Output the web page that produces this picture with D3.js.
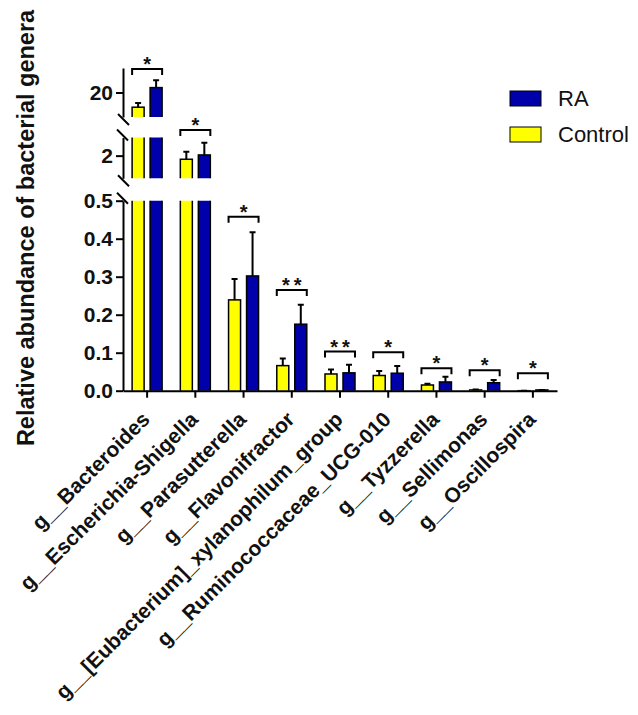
<!DOCTYPE html>
<html>
<head>
<meta charset="utf-8">
<script src="https://cdn.jsdelivr.net/npm/d3@7"></script>
<style>
  body { margin: 0; background: #fff; }
  svg { display: block; }
</style>
</head>
<body>
<script>
// genera, left to right
var categories = ["g__Bacteroides", "g__Escherichia-Shigella", "g__Parasutterella", "g__Flavonifractor",
    "g__[Eubacterium]_xylanophilum_group", "g__Ruminococcaceae_UCG-010", "g__Tyzzerella", "g__Sellimonas", "g__Oscillospira"];
var groups = ["Control", "RA"];

// mean relative abundance and upper error
var controlMean = [14.0, 1.84, 0.239, 0.066, 0.044, 0.040, 0.015, 0.002, 0.000];
var controlErr  = [1.7, 0.33, 0.055, 0.019, 0.012, 0.012, 0.003, 0.001, 0.000];
var raMean      = [22.0, 2.03, 0.302, 0.175, 0.047, 0.046, 0.023, 0.021, 0.002];
var raErr       = [3.0, 0.54, 0.115, 0.051, 0.021, 0.019, 0.014, 0.007, 0.000];

// significance marks and the level of each bracket (data units of its segment)
var sigLabels = ["*", "*", "*", "**", "**", "*", "*", "*", "*"];
var sigLevel  = [29.6, 3.13, 0.458, 0.265, 0.103, 0.101, 0.059, 0.054, 0.046];

// y axis tick labels for the three broken segments
var ticksTop = [20];
var ticksMid = [2];
var ticksBottom = [0, 0.1, 0.2, 0.3, 0.4, 0.5];

var colors = { Control: "#ffff00", RA: "#0000aa" };
var FONT = "'Liberation Sans', Arial, Helvetica, sans-serif";

var svg = d3.select("body").append("svg")
    .attr("width", 638)
    .attr("height", 715)
    .style("font-family", FONT);

svg.append("rect").attr("width", 638).attr("height", 715).attr("fill", "#fff");

var axisX = 123;
var x = d3.scaleBand().domain(categories).range([axisX, 557]);
var xSub = d3.scaleBand().domain(groups).range([-15, 15]).paddingInner(1 / 3);

function cx(c) { return x(c) + x.bandwidth() / 2; }

// build rows of {cat, group, value, err}
var rows = [];
categories.forEach(function (c, i) {
    rows.push({ cat: c, group: "Control", value: controlMean[i], err: controlErr[i] });
    rows.push({ cat: c, group: "RA", value: raMean[i], err: raErr[i] });
});

var segments = [
    { id: "segTop", y: d3.scaleLinear().domain([10, 30]).range([117, 68]), ticks: ticksTop, fmt: d3.format("d"), breakTop: false, breakBottom: true },
    { id: "segMid", y: d3.scaleLinear().domain([1, 2.8]).range([178.3, 137.5]), ticks: ticksMid, fmt: d3.format("d"), breakTop: true, breakBottom: true },
    { id: "segBot", y: d3.scaleLinear().domain([0, 0.5]).range([390.7, 200.7]), ticks: ticksBottom, fmt: d3.format(".1f"), breakTop: true, breakBottom: false }
];

var defs = svg.append("defs");

segments.forEach(function (seg) {
    var yBottom = seg.y.range()[0];
    var yTop = seg.y.range()[1];

    defs.append("clipPath").attr("id", "clip-" + seg.id)
        .append("rect")
        .attr("x", axisX)
        .attr("y", yTop)
        .attr("width", 600 - axisX)
        .attr("height", yBottom - yTop);

    var g = svg.append("g").attr("clip-path", "url(#clip-" + seg.id + ")");

    // bars
    g.selectAll("rect.bar")
        .data(rows)
        .enter().append("rect")
        .attr("class", "bar")
        .attr("x", function (d) { return cx(d.cat) + xSub(d.group); })
        .attr("width", xSub.bandwidth())
        .attr("y", function (d) { return Math.max(seg.y(d.value), yTop - 5); })
        .attr("height", function (d) {
            var top = Math.max(seg.y(d.value), yTop - 5);
            return Math.max(0, yBottom + 3 - top);
        })
        .attr("fill", function (d) { return colors[d.group]; })
        .attr("stroke", "#000")
        .attr("stroke-width", 1.5);

    // error bars (upper only)
    var eb = g.selectAll("g.err")
        .data(rows)
        .enter().append("g")
        .attr("class", "err")
        .attr("transform", function (d) { return "translate(" + (cx(d.cat) + xSub(d.group) + xSub.bandwidth() / 2) + ",0)"; });
    eb.append("line")
        .attr("y1", function (d) { return seg.y(d.value); })
        .attr("y2", function (d) { return seg.y(d.value + d.err); })
        .attr("stroke", "#000").attr("stroke-width", 2);
    eb.append("line")
        .attr("x1", -3).attr("x2", 3)
        .attr("y1", function (d) { return seg.y(d.value + d.err); })
        .attr("y2", function (d) { return seg.y(d.value + d.err); })
        .attr("stroke", "#000").attr("stroke-width", 2);

    // axis segment
    var ax = svg.append("g")
        .attr("transform", "translate(" + axisX + ",0)")
        .call(d3.axisLeft(seg.y).tickValues(seg.ticks).tickFormat(seg.fmt)
            .tickSize(7).tickPadding(3).tickSizeOuter(0));
    ax.select(".domain").attr("stroke-width", 2);
    ax.selectAll(".tick line").attr("stroke-width", 2);
    ax.selectAll(".tick text")
        .style("font-family", FONT)
        .style("font-size", "21px")
        .style("font-weight", "bold")
        .attr("fill", "#111");

    // break marks
    if (seg.breakBottom) {
        svg.append("line")
            .attr("x1", axisX - 5).attr("y1", yBottom - 3)
            .attr("x2", axisX + 6).attr("y2", yBottom + 8)
            .attr("stroke", "#000").attr("stroke-width", 2);
    }
    if (seg.breakTop) {
        svg.append("line")
            .attr("x1", axisX - 6).attr("y1", yTop - 8)
            .attr("x2", axisX + 5).attr("y2", yTop + 3)
            .attr("stroke", "#000").attr("stroke-width", 2);
    }
});

// which segment holds the top of each category
function segFor(i) {
    var top = Math.max(controlMean[i] + controlErr[i], raMean[i] + raErr[i]);
    for (var s = segments.length - 1; s >= 0; s--) {
        var dom = segments[s].y.domain();
        if (top <= dom[1]) return segments[s];
    }
    return segments[0];
}

// x axis
var bottomY = segments[2].y(0);
var xAxis = svg.append("g")
    .attr("transform", "translate(0," + bottomY + ")")
    .call(d3.axisBottom(x).tickSize(7).tickSizeOuter(0).tickFormat(""));
xAxis.select(".domain").attr("stroke-width", 2);
xAxis.selectAll(".tick line").attr("stroke-width", 2);

// category labels, rotated
svg.selectAll("text.cat")
    .data(categories)
    .enter().append("text")
    .attr("class", "cat")
    .attr("transform", function (c) { return "translate(" + (cx(c) + 4) + "," + (bottomY + 30) + ") rotate(-45)"; })
    .attr("text-anchor", "end")
    .style("font-size", "21px")
    .style("font-weight", "bold")
    .attr("fill", "#111")
    .text(function (c) { return c; });

// significance brackets
categories.forEach(function (c, i) {
    var seg = segFor(i);
    var yl = seg.y(sigLevel[i]);
    var x0 = cx(c) - 15, x1 = cx(c) + 15;
    svg.append("path")
        .attr("d", "M" + x0 + "," + (yl + 6) + "V" + yl + "H" + x1 + "V" + (yl + 6))
        .attr("fill", "none")
        .attr("stroke", "#000")
        .attr("stroke-width", 2);
    svg.append("text")
        .attr("x", cx(c) + (sigLabels[i].length > 1 ? 2 : 0))
        .attr("y", yl + 2)
        .attr("text-anchor", "middle")
        .style("font-size", "20px")
        .style("font-weight", "bold")
        .style("letter-spacing", sigLabels[i].length > 1 ? "4px" : "0px")
        .attr("fill", "#111")
        .text(sigLabels[i]);
});

// y axis title
svg.append("text")
    .attr("transform", "translate(34,228) rotate(-90)")
    .attr("text-anchor", "middle")
    .style("font-size", "23.5px")
    .style("font-weight", "bold")
    .attr("fill", "#111")
    .text("Relative abundance of bacterial genera");

// legend
var legendItems = ["RA", "Control"];
var legend = svg.selectAll("g.legend")
    .data(legendItems)
    .enter().append("g")
    .attr("class", "legend")
    .attr("transform", function (d, i) { return "translate(510," + (91 + i * 36) + ")"; });
legend.append("rect")
    .attr("width", 31).attr("height", 15)
    .attr("fill", function (d) { return colors[d]; })
    .attr("stroke", "#000").attr("stroke-width", 1);
legend.append("text")
    .attr("x", 48).attr("y", 15)
    .style("font-size", "22px")
    .attr("fill", "#111")
    .text(function (d) { return d; });
</script>
</body>
</html>
